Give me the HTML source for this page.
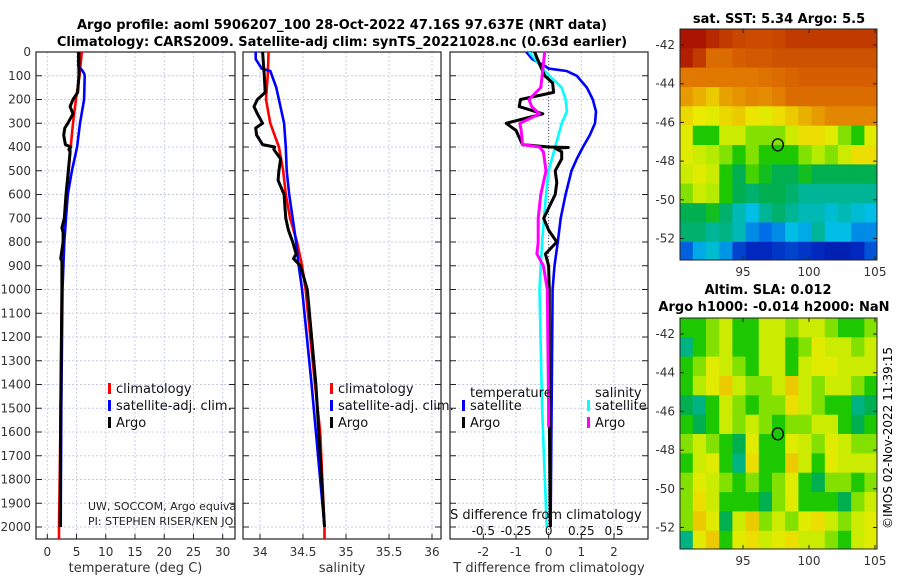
<!DOCTYPE html>
<html><head><meta charset="utf-8">
<style>
html,body{margin:0;padding:0;background:#fff;}
svg{display:block;font-family:"DejaVu Sans","Liberation Sans",sans-serif;}
</style></head>
<body>
<svg id="fig" width="900" height="580" viewBox="0 0 900 580" xmlns="http://www.w3.org/2000/svg">
<text x="342" y="29" font-size="13" font-weight="bold" text-anchor="middle">Argo profile: aoml 5906207_100 28-Oct-2022 47.16S 97.637E (NRT data)</text>
<text x="342" y="46" font-size="13" font-weight="bold" text-anchor="middle">Climatology: CARS2009. Satellite-adj clim: synTS_20221028.nc (0.63d earlier)</text>
<text x="779" y="23" font-size="13" font-weight="bold" text-anchor="middle">sat. SST: 5.34 Argo: 5.5</text>
<text x="768" y="294" font-size="13" font-weight="bold" text-anchor="middle">Altim. SLA: 0.012</text>
<text x="774" y="311" font-size="13" font-weight="bold" text-anchor="middle">Argo h1000: -0.014 h2000: NaN</text>
<text transform="translate(892,438) rotate(-90)" font-size="12" text-anchor="middle">©IMOS 02-Nov-2022 11:39:15</text>
<g id="g"></g>
</svg>
<script>
// ---- depth axis ----
const depthTicks=[0,100,200,300,400,500,600,700,800,900,1000,1100,1200,1300,1400,1500,1600,1700,1800,1900,2000];
// ---- temperature panel ----
const tTicks=[0,5,10,15,20,25,30];
const tClimDepth=[0,100,200,300,400,500,600,700,800,900,1000,1500,2000,2050];
const tClim=[5.9,5.5,4.9,4.4,4.0,3.65,3.35,3.0,2.7,2.6,2.5,2.3,2.0,2.0];
const tSatDepth=[0,60,75,90,100,200,300,400,500,600,700,800,1000,1500,2000];
const tSat=[5.3,5.3,5.9,6.3,6.4,6.3,5.6,5.1,4.2,3.5,3.2,2.9,2.6,2.4,2.3];
const tArgoDepth=[0,100,170,200,230,260,300,320,350,390,400,410,420,500,600,700,740,760,800,870,880,900,1000,1500,2000];
const tArgo=[5.4,5.4,5.2,4.4,3.9,4.4,3.5,3.0,2.8,3.1,4.0,3.7,3.9,3.6,3.2,2.9,2.5,2.7,2.7,2.3,2.5,2.5,2.5,2.3,2.2];
// ---- salinity panel ----
const sTicks=[34,34.5,35,35.5,36];
const sClimDepth=[0,100,200,300,400,500,600,700,800,900,1000,1400,1600,2000,2050];
const sClim=[34.1,34.09,34.07,34.12,34.22,34.27,34.3,34.35,34.43,34.49,34.53,34.64,34.7,34.75,34.75];
const sSatDepth=[0,30,70,80,150,250,300,400,500,600,700,800,900,1000,1400,2000];
const sSat=[33.95,33.95,34.02,34.12,34.19,34.25,34.28,34.3,34.31,34.34,34.38,34.42,34.45,34.49,34.6,34.75];
const sArgoDepth=[0,100,170,200,230,260,300,320,350,390,400,410,450,500,540,600,650,700,750,800,850,870,900,1000,1400,2000];
const sArgo=[34.03,34.05,34.06,33.97,33.93,33.97,34.03,33.95,33.96,34.03,34.17,34.16,34.24,34.22,34.21,34.28,34.29,34.3,34.33,34.38,34.42,34.39,34.47,34.55,34.65,34.75];
// ---- difference panel ----
const dTTicks=[-2,-1,0,1,2];
const dSTickLabels=["-0.5","-0.25","0","0.25","0.5"];
const dSTicks=[-0.5,-0.25,0,0.25,0.5];
const dTSatDepth=[0,30,60,70,80,100,150,200,250,300,350,400,450,500,600,700,800,900,1000,2000];
const dTSat=[-0.68,-0.5,-0.1,0,0.55,0.86,1.17,1.35,1.45,1.42,1.26,1.05,0.86,0.7,0.52,0.37,0.28,0.18,0.12,0.06];
const dTArgoDepth=[0,50,100,130,170,200,230,260,300,330,390,400,402,405,420,450,500,550,600,700,750,800,850,900,1000,1500,2000];
const dTArgo=[-0.43,-0.28,-0.12,0.12,0.15,-0.86,-0.9,-0.18,-1.3,-1.0,-0.8,0.0,0.6,0.2,0.4,0.4,0.2,0.25,0.2,-0.15,0.0,0.25,-0.1,0.0,0.02,0.02,0.05];
const dSSatDepth=[0,80,150,200,250,300,400,500,600,800,1000,1500,2000];
const dSSat=[-0.15,-0.03,0.1,0.13,0.14,0.1,0.05,0.0,-0.02,-0.05,-0.07,-0.05,-0.015];
const dSArgoDepth=[0,100,150,200,230,260,300,330,390,400,420,500,600,700,800,850,900,1000,1500,1580];
const dSArgo=[-0.03,-0.05,-0.06,-0.15,-0.13,-0.07,-0.22,-0.21,-0.2,-0.07,-0.04,-0.02,-0.06,-0.08,-0.08,-0.09,-0.04,-0.01,0.0,0.0];
// ---- maps ----
const lonTicks=[95,100,105];
const latTicks=[-42,-44,-46,-48,-50,-52];
const sstGrid=[
[0.97,0.97,0.93,0.9,0.88,0.87,0.87,0.88,0.9,0.9,0.9,0.9,0.9,0.9,0.9],
[0.95,0.9,0.82,0.82,0.84,0.85,0.85,0.86,0.86,0.86,0.86,0.86,0.86,0.86,0.86],
[0.8,0.8,0.8,0.8,0.8,0.8,0.81,0.82,0.83,0.84,0.84,0.84,0.84,0.84,0.84],
[0.75,0.72,0.68,0.74,0.76,0.78,0.77,0.79,0.82,0.82,0.82,0.82,0.82,0.82,0.82],
[0.66,0.63,0.62,0.66,0.68,0.64,0.62,0.65,0.68,0.72,0.75,0.78,0.78,0.78,0.78],
[0.62,0.5,0.5,0.6,0.6,0.55,0.55,0.55,0.6,0.65,0.65,0.62,0.55,0.5,0.62],
[0.62,0.6,0.58,0.55,0.5,0.55,0.5,0.5,0.5,0.55,0.58,0.55,0.6,0.65,0.65],
[0.6,0.62,0.6,0.5,0.45,0.52,0.48,0.45,0.45,0.48,0.45,0.45,0.45,0.45,0.45],
[0.55,0.6,0.58,0.5,0.45,0.42,0.45,0.45,0.42,0.38,0.38,0.38,0.38,0.38,0.38],
[0.45,0.45,0.48,0.42,0.35,0.3,0.38,0.42,0.38,0.35,0.35,0.32,0.35,0.32,0.3],
[0.42,0.42,0.38,0.4,0.35,0.25,0.22,0.25,0.3,0.28,0.38,0.3,0.3,0.25,0.25],
[0.2,0.28,0.32,0.26,0.16,0.12,0.12,0.14,0.16,0.14,0.12,0.1,0.1,0.12,0.18]];
const slaGrid=[
[0.5,0.5,0.55,0.6,0.5,0.5,0.6,0.6,0.55,0.6,0.6,0.55,0.5,0.5,0.55],
[0.4,0.5,0.55,0.6,0.5,0.5,0.6,0.6,0.5,0.55,0.62,0.6,0.6,0.55,0.6],
[0.5,0.55,0.62,0.6,0.55,0.5,0.6,0.6,0.5,0.6,0.62,0.62,0.6,0.6,0.6],
[0.5,0.58,0.62,0.68,0.6,0.55,0.55,0.6,0.68,0.6,0.55,0.6,0.6,0.55,0.5],
[0.45,0.4,0.5,0.6,0.55,0.5,0.55,0.55,0.65,0.6,0.55,0.5,0.5,0.4,0.45],
[0.5,0.45,0.5,0.6,0.55,0.6,0.55,0.5,0.55,0.55,0.6,0.6,0.5,0.45,0.5],
[0.55,0.6,0.55,0.5,0.45,0.62,0.5,0.5,0.62,0.6,0.55,0.62,0.6,0.55,0.55],
[0.5,0.6,0.62,0.5,0.4,0.65,0.5,0.5,0.68,0.6,0.5,0.62,0.6,0.6,0.6],
[0.55,0.62,0.6,0.55,0.5,0.55,0.5,0.55,0.62,0.5,0.45,0.55,0.55,0.5,0.55],
[0.55,0.65,0.6,0.5,0.5,0.5,0.45,0.55,0.62,0.5,0.5,0.5,0.45,0.55,0.6],
[0.55,0.68,0.62,0.45,0.6,0.68,0.55,0.6,0.55,0.62,0.65,0.6,0.55,0.6,0.62],
[0.4,0.62,0.68,0.5,0.62,0.65,0.6,0.62,0.65,0.6,0.6,0.55,0.5,0.6,0.62]];
const argoPos=[97.637,-47.16];

const NS="http://www.w3.org/2000/svg";
const G=document.getElementById('g');
function el(tag,attrs,parent){const e=document.createElementNS(NS,tag);for(const k in attrs)e.setAttribute(k,attrs[k]);(parent||G).appendChild(e);return e;}
function lin(d0,d1,r0,r1){return v=>r0+(v-d0)*(r1-r0)/(d1-d0);}
const Y=lin(0,2000,52,527);
const TOP=52,BOT=539;
function pathOf(xs,ds,sx){return xs.map((v,i)=>(i?'L':'M')+sx(v).toFixed(1)+','+Y(ds[i]).toFixed(1)).join('');}

function panel(name,x0,x1,sx,ticks,labels,xlabel){
  const g=el('g',{});
  
  
  const cid='clip-'+name;
  const cp=el('clipPath',{id:cid},g);el('rect',{x:x0,y:TOP,width:x1-x0,height:BOT-TOP},cp);
  ticks.forEach((t,i)=>{
    const gl=el('line',{x1:sx(t),x2:sx(t),y1:TOP,y2:BOT,stroke:'#c8cce8','stroke-width':1,'stroke-dasharray':'2,2'},g);
    
    
    el('line',{x1:sx(t),x2:sx(t),y1:BOT,y2:BOT-5,stroke:'#222'},g);
    const lb=el('text',{x:sx(t),y:556,'font-size':12,'text-anchor':'middle',fill:'#333'},g);lb.textContent=labels[i];
    
    
  });
  depthTicks.forEach(d=>{
    el('line',{x1:x0,x2:x1,y1:Y(d),y2:Y(d),stroke:'#c8cce8','stroke-width':1,'stroke-dasharray':'2,2'},g);
    el('line',{x1:x0,x2:x0+6,y1:Y(d),y2:Y(d),stroke:'#222'},g);
    el('line',{x1:x1-6,x2:x1,y1:Y(d),y2:Y(d),stroke:'#222'},g);
  });
  const fr=el('rect',{x:x0,y:TOP,width:x1-x0,height:BOT-TOP,fill:'none',stroke:'#222','stroke-width':1.2},g);
  
  
  const xl=el('text',{x:(x0+x1)/2,y:572,'font-size':13,'text-anchor':'middle',fill:'#333'},g);xl.textContent=xlabel;
  
  
  const lg=el('g',{'clip-path':'url(#'+cid+')'},g);
  return lg;
}
function series(parent,name,xs,ds,sx,color,w){
  const p=el('path',{d:pathOf(xs,ds,sx),fill:'none',stroke:color,'stroke-width':w||2.6,'stroke-linejoin':'round'},parent);
  
  
}
function legend(x,y,color,label){
  const r=el('rect',{x:x,y:y-9,width:3,height:11,fill:color});
  
  
  const t=el('text',{x:x+8,y:y+1,'font-size':13,fill:'#111'});t.textContent=label;
  
  
}

depthTicks.forEach(d=>{const t=el('text',{x:31,y:Y(d)+4,'font-size':12,'text-anchor':'end',fill:'#333'});t.textContent=d;
 
 });

// temperature
const sxT=lin(0,30,47.3,222.7);
let g1=panel('temperature-panel',36,235,sxT,tTicks,tTicks.map(String),'temperature (deg C)');
series(g1,'temp-climatology-line',tClim,tClimDepth,sxT,'#ff0000');
series(g1,'temp-satellite-line',tSat,tSatDepth,sxT,'#0000ff');
series(g1,'temp-argo-line',tArgo,tArgoDepth,sxT,'#000000',3);
legend(108,392,'#ff0000','climatology');legend(108,409,'#0000ff','satellite-adj. clim.');legend(108,426,'#000000','Argo');
const cpi=el('clipPath',{id:'infoclip'});el('rect',{x:36,y:490,width:199,height:40},cpi);
const ig=el('g',{'clip-path':'url(#infoclip)'});
let it=el('text',{x:88,y:510,'font-size':11,fill:'#222'},ig);it.textContent='UW, SOCCOM, Argo equivalent';


it=el('text',{x:88,y:525,'font-size':11,fill:'#222'},ig);it.textContent='PI: STEPHEN RISER/KEN JOHNSON';



// salinity
const sxS=lin(34,36,260,432);
let g2=panel('salinity-panel',243,441,sxS,sTicks,sTicks.map(String),'salinity');
series(g2,'sal-climatology-line',sClim,sClimDepth,sxS,'#ff0000');
series(g2,'sal-satellite-line',sSat,sSatDepth,sxS,'#0000ff');
series(g2,'sal-argo-line',sArgo,sArgoDepth,sxS,'#000000',3);
legend(330,392,'#ff0000','climatology');legend(330,409,'#0000ff','satellite-adj. clim.');legend(330,426,'#000000','Argo');

// difference
const sxD=lin(-2,2,483.3,614);
const sxDS=lin(-0.5,0.5,483.3,614);
let g3=panel('difference-panel',450,648,sxD,dTTicks,dTTicks.map(String),'T difference from climatology');
el('line',{x1:sxD(0),x2:sxD(0),y1:TOP,y2:BOT,stroke:'#555','stroke-dasharray':'1,2'},g3);
series(g3,'dt-satellite-line',dTSat,dTSatDepth,sxD,'#0000ff');
series(g3,'ds-satellite-line',dSSat,dSSatDepth,sxDS,'#00ffff');
series(g3,'dt-argo-line',dTArgo,dTArgoDepth,sxD,'#000000',3);
series(g3,'ds-argo-line',dSArgo,dSArgoDepth,sxDS,'#ff00ff',3);
let t3=el('text',{x:470,y:397,'font-size':13,fill:'#111'});t3.textContent='temperature';


t3=el('text',{x:595,y:397,'font-size':13,fill:'#111'});t3.textContent='salinity';


legend(462,409,'#0000ff','satellite');legend(462,426,'#000000','Argo');
legend(587,409,'#00ffff','satellite');legend(587,426,'#ff00ff','Argo');
t3=el('text',{x:450,y:519,'font-size':13,fill:'#111'});t3.textContent='S difference from climatology';


dSTicks.forEach((v,i)=>{const t=el('text',{x:sxDS(v),y:535,'font-size':12,'text-anchor':'middle',fill:'#111'});t.textContent=dSTickLabels[i];
 
 });

// colormap matched to reference
const cmapStops=[[0,[0,0,130]],[0.12,[0,40,190]],[0.22,[0,110,230]],[0.3,[0,190,230]],[0.38,[0,180,150]],[0.45,[0,175,80]],[0.5,[30,200,0]],[0.57,[170,235,0]],[0.63,[235,235,0]],[0.7,[235,190,0]],[0.8,[225,120,0]],[0.88,[200,70,0]],[0.97,[170,20,0]],[1,[160,10,0]]];
function cmap(v){v=Math.max(0,Math.min(1,v));
 for(let i=1;i<cmapStops.length;i++){const a=cmapStops[i-1],b=cmapStops[i];
  if(v<=b[0]){const f=(v-a[0])/(b[0]-a[0]);const c=a[1].map((x,k)=>Math.round(x+(b[1][k]-x)*f));return 'rgb('+c.join(',')+')';}}
 return 'rgb(160,10,0)';}

function map(name,grid,y0,y1,latTop){
  const x0=680,x1=877;
  const sx=lin(95,105,743,875), sy=lin(-42,-52,y0+16,y0+16+193.5);
  const g=el('g',{});
  
  
  const cid='clip-'+name;const cp=el('clipPath',{id:cid},g);el('rect',{x:x0,y:y0,width:x1-x0,height:y1-y0},cp);
  const cg=el('g',{'clip-path':'url(#'+cid+')'},g);
  grid.forEach((row,r)=>row.forEach((v,c)=>{
    const lon=90.2+c, lat=latTop-r;
    const rc=el('rect',{x:sx(lon).toFixed(1),y:sy(lat).toFixed(1),width:(sx(lon+1)-sx(lon)+0.6).toFixed(1),height:(sy(lat-1)-sy(lat)+0.6).toFixed(1),fill:cmap(v)},cg);
    
    
  }));
  const fr=el('rect',{x:x0,y:y0,width:x1-x0,height:y1-y0,fill:'none',stroke:'#222'},g);
  
  
  const m=el('ellipse',{cx:sx(argoPos[0]),cy:sy(argoPos[1]),rx:5.5,ry:6,fill:'none',stroke:'#000','stroke-width':1.3},g);
  
  
  lonTicks.forEach(l=>{el('line',{x1:sx(l),x2:sx(l),y1:y1,y2:y1-4,stroke:'#222'},g);el('line',{x1:sx(l),x2:sx(l),y1:y0,y2:y0+4,stroke:'#222'},g);
    const t=el('text',{x:sx(l),y:y1+16,'font-size':12,'text-anchor':'middle',fill:'#333'},g);t.textContent=l;
    
    });
  latTicks.forEach(l=>{el('line',{x1:x0,x2:x0+4,y1:sy(l),y2:sy(l),stroke:'#222'},g);el('line',{x1:x1,x2:x1-4,y1:sy(l),y2:sy(l),stroke:'#222'},g);
    const t=el('text',{x:x0-5,y:sy(l)+4,'font-size':12,'text-anchor':'end',fill:'#333'},g);t.textContent=l;
    
    });
}
map('sst-map',sstGrid,29,260,-41.17);
map('sla-map',slaGrid,318,549,-41.17);
</script>
</body></html>
